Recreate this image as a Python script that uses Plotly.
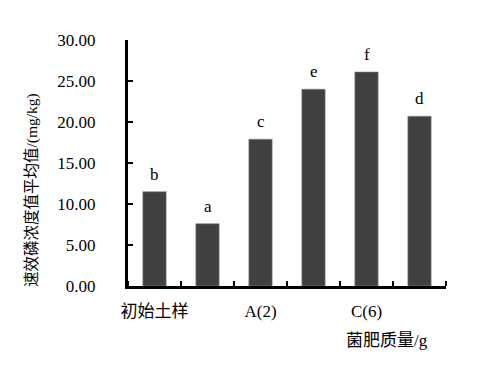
import plotly.graph_objects as go

positions = [0, 1, 2, 3, 4, 5]
values = [11.5, 7.6, 17.9, 24.0, 26.1, 20.7]
letters = ["b", "a", "c", "e", "f", "d"]
tick_positions = [0, 2, 4]
tick_labels = ["初始土样", "A(2)", "C(6)"]
y_ticks = [0, 5, 10, 15, 20, 25, 30]
y_tick_labels = ["0.00", "5.00", "10.00", "15.00", "20.00", "25.00", "30.00"]

FONT = "Liberation Serif, Times New Roman, Noto Sans CJK SC, serif"

fig = go.Figure()
fig.add_trace(go.Bar(
    x=positions, y=values, width=0.44,
    marker=dict(color="#404040", line=dict(color="#8a8a8a", width=0.6)),
))

annotations = [
    dict(x=p, y=v, xref="x", yref="y", text=t, showarrow=False,
         xanchor="center", yanchor="bottom", yshift=6,
         font=dict(family=FONT, size=17, color="black"))
    for p, v, t in zip(positions, values, letters)
]
annotations += [
    dict(text="速效磷浓度值平均值/(mg/kg)", textangle=-90,
         xref="paper", yref="paper", x=(32 - 128) / 318, y=0.39,
         xanchor="center", yanchor="middle", showarrow=False,
         font=dict(family=FONT, size=15.5, color="black")),
    dict(text="菌肥质量/g",
         xref="paper", yref="paper", x=(387 - 128) / 318, y=-(340 - 286) / 246,
         xanchor="center", yanchor="middle", showarrow=False,
         font=dict(family=FONT, size=17, color="black")),
]

fig.update_layout(
    width=487, height=382,
    margin=dict(l=120, r=49, t=32, b=104),
    paper_bgcolor="white", plot_bgcolor="white",
    showlegend=False,
    font=dict(family=FONT, color="black"),
    xaxis=dict(
        range=[-0.5, 5.5], automargin=False,
        tickmode="array", tickvals=tick_positions, ticktext=tick_labels,
        ticks="", ticklabelstandoff=8,
        tickfont=dict(family=FONT, size=17, color="black"),
        showline=True, linecolor="black", linewidth=3,
        showgrid=False, zeroline=False,
        minor=dict(tick0=0.5, dtick=1, ticks="inside", ticklen=5, tickwidth=2, tickcolor="black", showgrid=False),
    ),
    yaxis=dict(
        range=[0, 30], automargin=False,
        tickmode="array", tickvals=y_ticks, ticktext=y_tick_labels,
        ticks="inside", ticklen=5, tickwidth=2, tickcolor="black",
        ticklabelstandoff=26,
        tickfont=dict(family=FONT, size=17, color="black"),
        showline=True, linecolor="black", linewidth=3,
        showgrid=False, zeroline=False,
    ),
    annotations=annotations,
)

fig.write_html("out.html")
